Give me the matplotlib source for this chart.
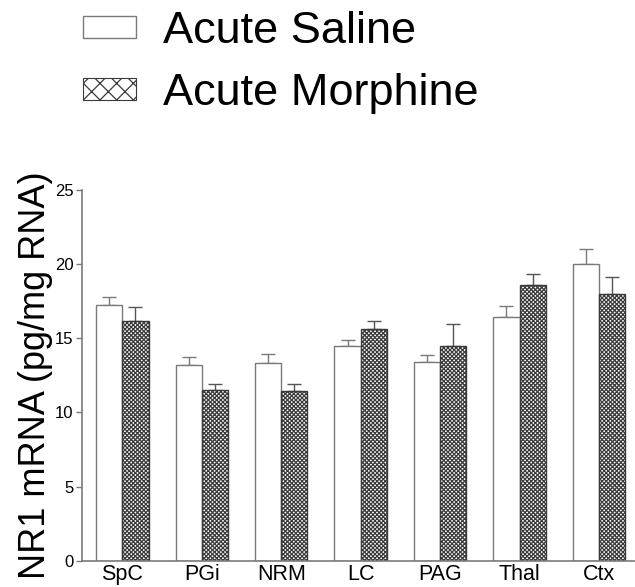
import matplotlib
matplotlib.use("Agg")
import matplotlib.pyplot as plt
from matplotlib.patches import Patch
import numpy as np

regions = ["SpC", "PGi", "NRM", "LC", "PAG", "Thal", "Ctx"]
saline = [17.2, 13.2, 13.3, 14.5, 13.4, 16.4, 20.0]
saline_err = [0.6, 0.55, 0.6, 0.37, 0.45, 0.75, 1.03]
morphine = [16.15, 11.5, 11.45, 15.6, 14.5, 18.55, 17.95]
morphine_err = [0.93, 0.43, 0.45, 0.52, 1.48, 0.8, 1.15]
series_labels = ["Acute Saline", "Acute Morphine"]
yticks = [0, 5, 10, 15, 20, 25]

plt.rcParams['font.family'] = ['Liberation Sans', 'DejaVu Sans']
plt.rcParams['hatch.linewidth'] = 0.9
plt.rcParams['hatch.color'] = '#222222'

fig = plt.figure(figsize=(6.35, 5.87), dpi=100)
ax = fig.add_axes([81.7 / 635, 1 - 560.7 / 587, 553.3 / 635, 371.0 / 587])

x = np.arange(len(regions))
w = 0.33
gray = '#7a7a7a'
dark = '#3a3a3a'

ax.bar(x - w, saline, width=w, align='edge', color='white',
       edgecolor=gray, linewidth=1.0, zorder=2)
ax.bar(x, morphine, width=w, align='edge', color='white',
       edgecolor=dark, linewidth=1.0, hatch='xxxxxxxx', zorder=2)
ax.errorbar(x - w / 2, saline, yerr=[np.zeros(len(saline)), saline_err],
            fmt='none', ecolor=gray, elinewidth=1.0, capsize=4.7,
            capthick=1.0, zorder=1)
ax.errorbar(x + w / 2, morphine, yerr=[np.zeros(len(morphine)), morphine_err],
            fmt='none', ecolor='#555555', elinewidth=1.0, capsize=4.7,
            capthick=1.0, zorder=1)

ax.set_xlim(-0.511, 6.453)
ax.set_ylim(0, 25)
ax.set_yticks(yticks)
ax.set_yticklabels([str(t) for t in yticks], fontsize=12)
ax.set_xticks(x)
ax.set_xticklabels(regions, fontsize=15.5)
ax.tick_params(axis='x', length=0, pad=2.5)
ax.tick_params(axis='y', length=4, width=1.0, color=gray, pad=2)
for s in ['top', 'right']:
    ax.spines[s].set_visible(False)
for s in ['left', 'bottom']:
    ax.spines[s].set_color(gray)
    ax.spines[s].set_linewidth(1.2)
ax.set_ylabel("NR1 mRNA (pg/mg RNA)", fontsize=26, labelpad=1)

handles = [Patch(facecolor='white', edgecolor=gray, linewidth=1.0),
           Patch(facecolor='white', edgecolor=dark, linewidth=0.8, hatch='xx')]
fig.legend(handles, series_labels, loc='upper left',
           bbox_to_anchor=(83 / 635, 1 - 11 / 587), frameon=False,
           fontsize=32.5, handlelength=1.17, handleheight=0.38,
           handletextpad=0.6, labelspacing=0.46, borderpad=0,
           borderaxespad=0)

fig.savefig("out.png", dpi=100)
